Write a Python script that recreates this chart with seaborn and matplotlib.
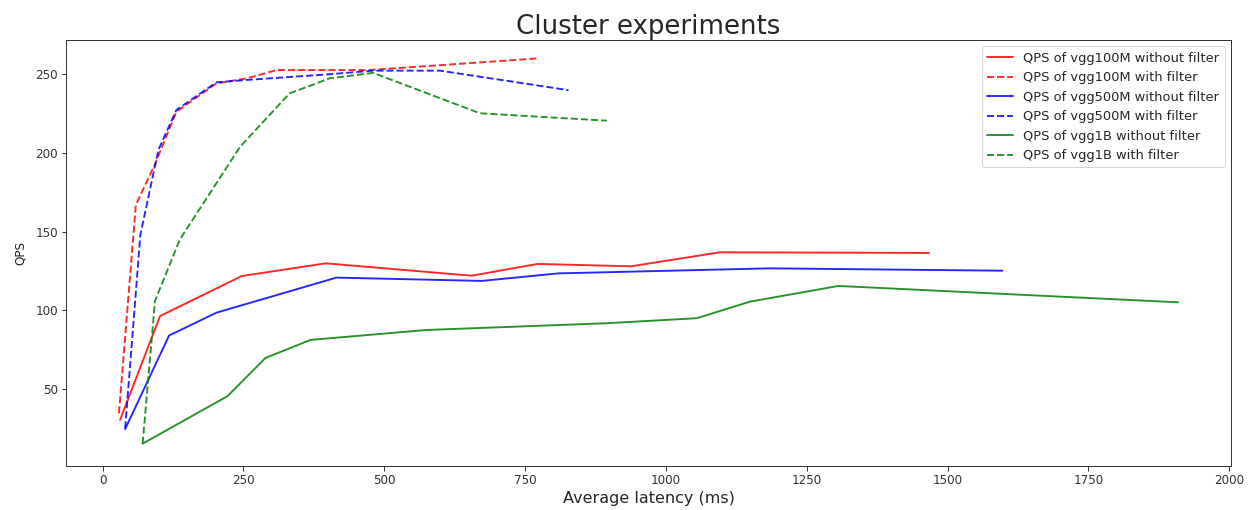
import numpy as np
import pandas as pd
import matplotlib
matplotlib.use("Agg")
import matplotlib.pyplot as plt
import seaborn as sns

# ---- data ----
lat_100m_nf = [31, 102, 247, 396, 655, 772, 938, 1096, 1467]
qps_100m_nf = [30.3, 96.4, 121.8, 129.9, 122.0, 129.5, 128.0, 136.9, 136.5]

lat_100m_f = [29, 59, 93, 131, 202, 256, 309, 474, 773]
qps_100m_f = [34.5, 167, 193, 226.3, 244.3, 247.5, 252.8, 252.8, 260.2]

lat_500m_nf = [40, 118, 202, 415, 673, 809, 1185, 1597]
qps_500m_nf = [24.5, 84, 98.5, 120.8, 118.7, 123.5, 126.7, 125.2]

lat_500m_f = [40, 67, 99, 131, 202, 256, 398, 480, 599, 827]
qps_500m_f = [25, 148, 202, 227.4, 245, 246.5, 250, 252.4, 252.4, 240]

lat_1b_nf = [71, 222, 289, 369, 575, 895, 1055, 1149, 1306, 1909]
qps_1b_nf = [15.2, 45.5, 69.7, 81.2, 87.5, 91.8, 95, 105.5, 115.5, 105.1]

lat_1b_f = [71, 93, 137, 244, 332, 403, 480, 670, 895]
qps_1b_f = [15.2, 106, 145, 204, 238, 247.5, 251, 225.3, 220.6]

series = [
    ("QPS of vgg100M without filter", lat_100m_nf, qps_100m_nf, "r", "-"),
    ("QPS of vgg100M with filter", lat_100m_f, qps_100m_f, "r", "--"),
    ("QPS of vgg500M without filter", lat_500m_nf, qps_500m_nf, "b", "-"),
    ("QPS of vgg500M with filter", lat_500m_f, qps_500m_f, "b", "--"),
    ("QPS of vgg1B without filter", lat_1b_nf, qps_1b_nf, "g", "-"),
    ("QPS of vgg1B with filter", lat_1b_f, qps_1b_f, "g", "--"),
]

sns.set_style("ticks", {"axes.edgecolor": ".2", "xtick.color": ".2", "ytick.color": ".2"})
plt.rcParams["font.family"] = ["DejaVu Sans"]

dpi = 72
fig = plt.figure(figsize=(1253 / dpi, 510 / dpi), dpi=dpi)
ax = fig.add_axes([66 / 1253, 1 - 465.7 / 510, (1231 - 66) / 1253, (465.7 - 40) / 510])

for label, xs, ys, color, ls in series:
    df = pd.DataFrame({"latency": xs, "qps": ys})
    sns.lineplot(data=df, x="latency", y="qps", ax=ax, color=color, linestyle=ls,
                 label=label, estimator=None, sort=False, alpha=0.85, linewidth=1.9)

ax.set_xlim(-65, 2003)
ax.set_ylim(1.2, 271.9)
ax.set_xticks([0, 250, 500, 750, 1000, 1250, 1500, 1750, 2000])
ax.set_yticks([50, 100, 150, 200, 250])
ax.tick_params(labelsize=12, length=4.5, width=1.0)
for s in ax.spines.values():
    s.set_linewidth(1.0)

ax.set_xlabel("Average latency (ms)", fontsize=16)
ax.set_ylabel("QPS", fontsize=12, labelpad=8)
ax.set_title("Cluster experiments", fontsize=26)

leg = ax.legend(loc="upper right", fontsize=13, frameon=True)
leg.get_frame().set_edgecolor("0.8")

fig.savefig("out.png", dpi=dpi)
